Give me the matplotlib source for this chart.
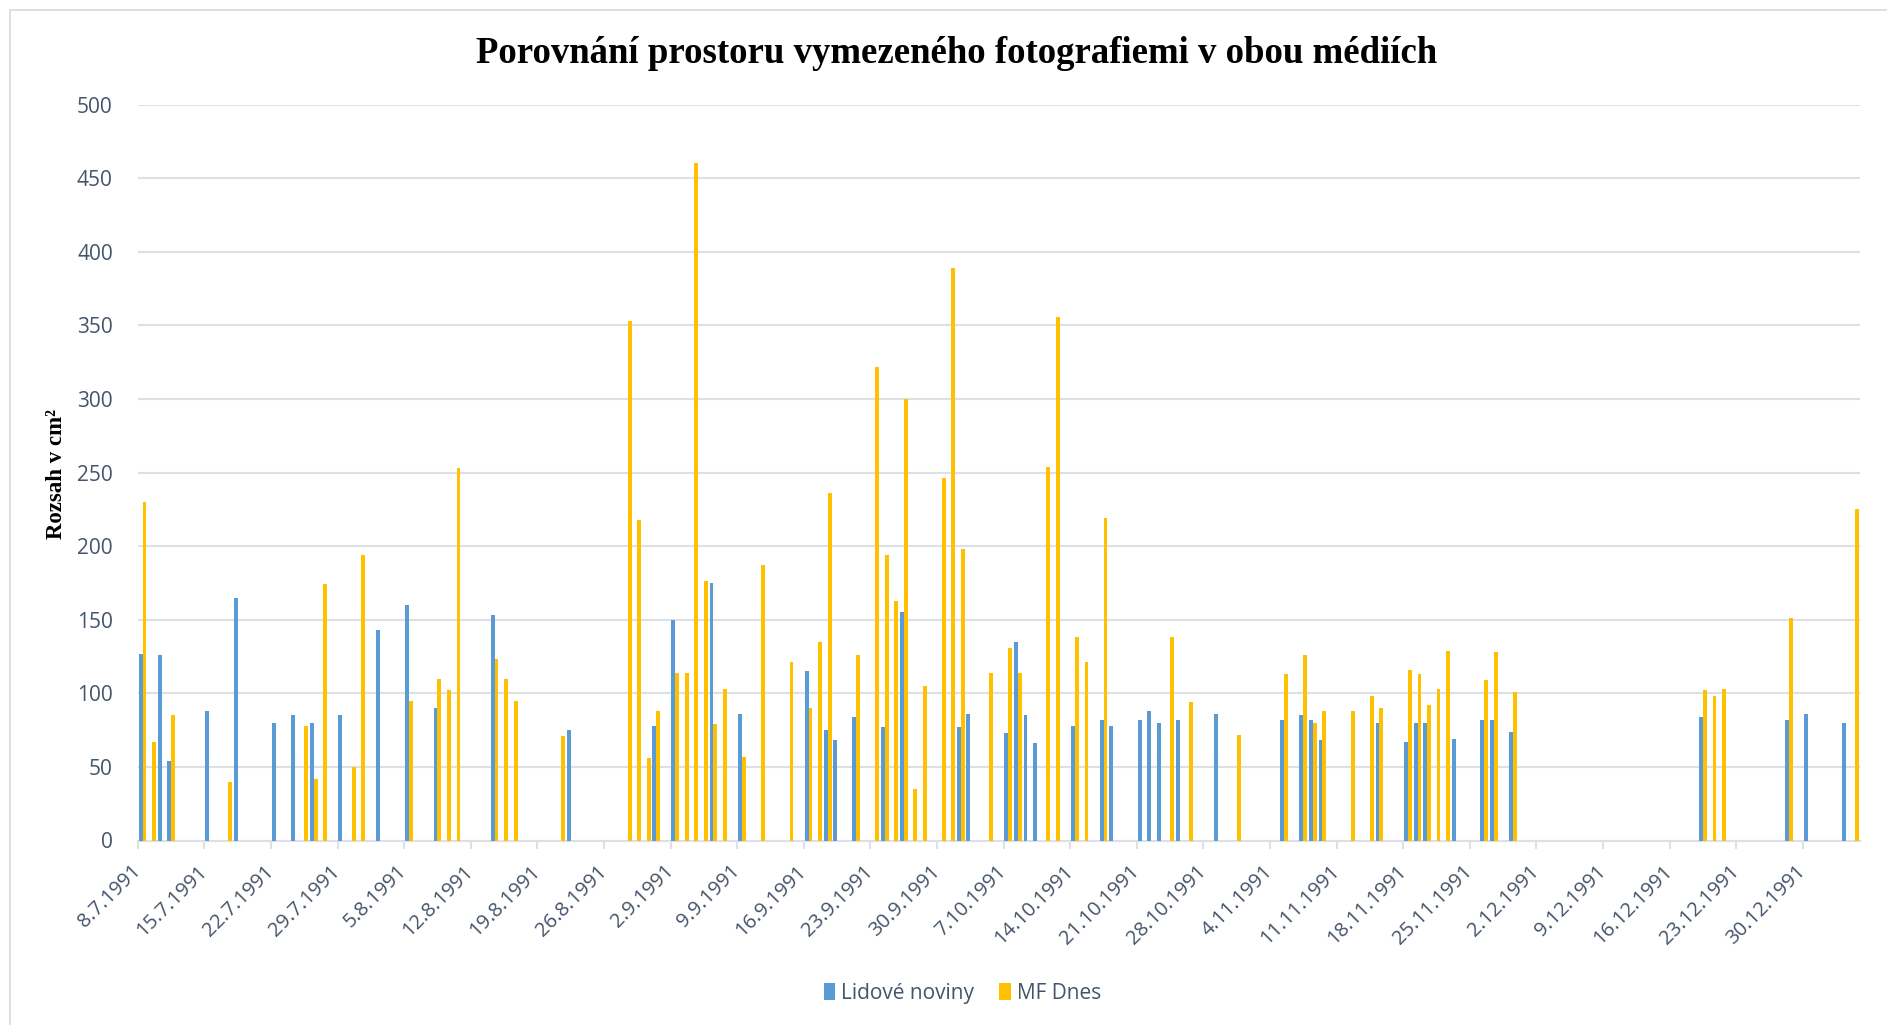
import matplotlib
matplotlib.use("Agg")
import matplotlib.pyplot as plt
import matplotlib.patches as mpatches
import pandas as pd

START = "8.7.1991"
END = "4.1.1992"

lidove_dates = [
    "8.7.1991", "10.7.1991", "11.7.1991", "15.7.1991", "18.7.1991", "22.7.1991",
    "24.7.1991", "26.7.1991", "29.7.1991", "2.8.1991", "5.8.1991", "8.8.1991",
    "14.8.1991", "22.8.1991", "31.8.1991", "2.9.1991", "6.9.1991", "9.9.1991",
    "16.9.1991", "18.9.1991", "19.9.1991", "21.9.1991", "24.9.1991", "26.9.1991",
    "2.10.1991", "3.10.1991", "7.10.1991", "8.10.1991", "9.10.1991", "10.10.1991",
    "14.10.1991", "17.10.1991", "18.10.1991", "21.10.1991", "22.10.1991", "23.10.1991",
    "25.10.1991", "29.10.1991", "5.11.1991", "7.11.1991", "8.11.1991", "9.11.1991",
    "15.11.1991", "18.11.1991", "19.11.1991", "20.11.1991", "23.11.1991", "26.11.1991",
    "27.11.1991", "29.11.1991", "19.12.1991", "28.12.1991", "30.12.1991", "3.1.1992",
]
lidove_vals = [
    127, 126, 54, 88, 165, 80,
    85, 80, 85, 143, 160, 90,
    153, 75, 78, 150, 175, 86,
    115, 75, 68, 84, 77, 155,
    77, 86, 73, 135, 85, 66,
    78, 82, 78, 82, 88, 80,
    82, 86, 82, 85, 82, 68,
    80, 67, 80, 80, 69, 82,
    82, 74, 84, 82, 86, 80,
]

mf_dates = [
    "8.7.1991", "9.7.1991", "11.7.1991", "17.7.1991", "25.7.1991", "26.7.1991",
    "27.7.1991", "30.7.1991", "31.7.1991", "5.8.1991", "8.8.1991", "9.8.1991",
    "10.8.1991", "14.8.1991", "15.8.1991", "16.8.1991", "21.8.1991", "28.8.1991",
    "29.8.1991", "30.8.1991", "31.8.1991", "2.9.1991", "3.9.1991", "4.9.1991",
    "5.9.1991", "6.9.1991", "7.9.1991", "9.9.1991", "11.9.1991", "14.9.1991",
    "16.9.1991", "17.9.1991", "18.9.1991", "21.9.1991", "23.9.1991", "24.9.1991",
    "25.9.1991", "26.9.1991", "27.9.1991", "28.9.1991", "30.9.1991", "1.10.1991",
    "2.10.1991", "5.10.1991", "7.10.1991", "8.10.1991", "11.10.1991", "12.10.1991",
    "14.10.1991", "15.10.1991", "17.10.1991", "24.10.1991", "26.10.1991", "31.10.1991",
    "5.11.1991", "7.11.1991", "8.11.1991", "9.11.1991", "12.11.1991", "14.11.1991",
    "15.11.1991", "18.11.1991", "19.11.1991", "20.11.1991", "21.11.1991", "22.11.1991",
    "26.11.1991", "27.11.1991", "29.11.1991", "19.12.1991", "20.12.1991", "21.12.1991",
    "28.12.1991", "4.1.1992",
]
mf_vals = [
    230, 67, 85, 40, 78, 42,
    174, 50, 194, 95, 110, 102,
    253, 123, 110, 95, 71, 353,
    218, 56, 88, 114, 114, 460,
    176, 79, 103, 57, 187, 121,
    90, 135, 236, 126, 322, 194,
    163, 300, 35, 105, 246, 389,
    198, 114, 131, 114, 254, 356,
    138, 121, 219, 138, 94, 72,
    113, 126, 80, 88, 88, 98,
    90, 116, 113, 92, 103, 129,
    109, 128, 101, 102, 98, 103,
    151, 225,
]

BLUE = "#5B9BD5"
YELLOW = "#FFC000"
TEXT = "#44546A"
GRID = "#DDE1E7"


def day_index(dates):
    """Days since the first date on the axis."""
    d = pd.to_datetime(pd.Series(dates), format="%d.%m.%Y")
    return (d - pd.Timestamp(1991, 7, 8)).dt.days.to_numpy()


start = pd.to_datetime(START, format="%d.%m.%Y")
end = pd.to_datetime(END, format="%d.%m.%Y")
n_days = (end - start).days + 1
week_starts = pd.date_range(start, pd.Timestamp(1991, 12, 30), freq="7D")
week_labels = [f"{d.day}.{d.month}.{d.year}" for d in week_starts]

fig = plt.figure(figsize=(18.87, 10.25), dpi=100)
ax = fig.add_axes([0.073, 0.18, 0.9127, 0.718])

w = 0.41
ax.bar(day_index(lidove_dates) - w / 2, lidove_vals, width=w, color=BLUE,
       label="Lidové noviny", zorder=3)
ax.bar(day_index(mf_dates) + w / 2, mf_vals, width=w, color=YELLOW,
       label="MF Dnes", zorder=3)

ax.set_xlim(-0.5, n_days - 0.5)
ax.set_ylim(0, 500)
ax.set_yticks(range(0, 501, 50))
ax.yaxis.grid(True, color=GRID, linewidth=1.5, zorder=0)
ax.tick_params(axis="y", length=0, pad=18, labelsize=15, labelcolor=TEXT)
for lbl in ax.get_yticklabels():
    lbl.set_family("Open Sans")

ax.set_xticks([(d - start).days - 0.5 for d in week_starts])
ax.set_xticklabels(week_labels, rotation=45, ha="right", va="center",
                   rotation_mode="anchor", fontsize=14.5, color=TEXT,
                   family="Open Sans")
ax.tick_params(axis="x", length=6, width=1.5, color=GRID, pad=14)

for side in ["top", "right", "left"]:
    ax.spines[side].set_visible(False)
ax.spines["bottom"].set_color(GRID)
ax.spines["bottom"].set_linewidth(1.5)

fig.text(0.507, 0.948, "Porovnání prostoru vymezeného fotografiemi v obou médiích",
         ha="center", va="center", fontsize=26.5, fontweight="bold",
         family="Liberation Serif", color="black")
fig.text(0.030, 0.538, "Rozsah v cm²", rotation=90, ha="center", va="center",
         fontsize=16.5, fontweight="bold", family="Liberation Serif", color="black")

leg = fig.legend(loc="center", bbox_to_anchor=(0.510, 0.031), ncol=2, frameon=False,
                 handlelength=0.55, handleheight=0.9, handletextpad=0.3,
                 columnspacing=1.2, prop={"family": "Open Sans", "size": 15})
for t in leg.get_texts():
    t.set_color(TEXT)

fig.patches.append(mpatches.Rectangle((10 / 1887, -0.01), 1.02, 1.0, transform=fig.transFigure,
                                      fill=False, edgecolor="#D9D9D9", linewidth=1.2))

fig.savefig("out.png", dpi=100)
